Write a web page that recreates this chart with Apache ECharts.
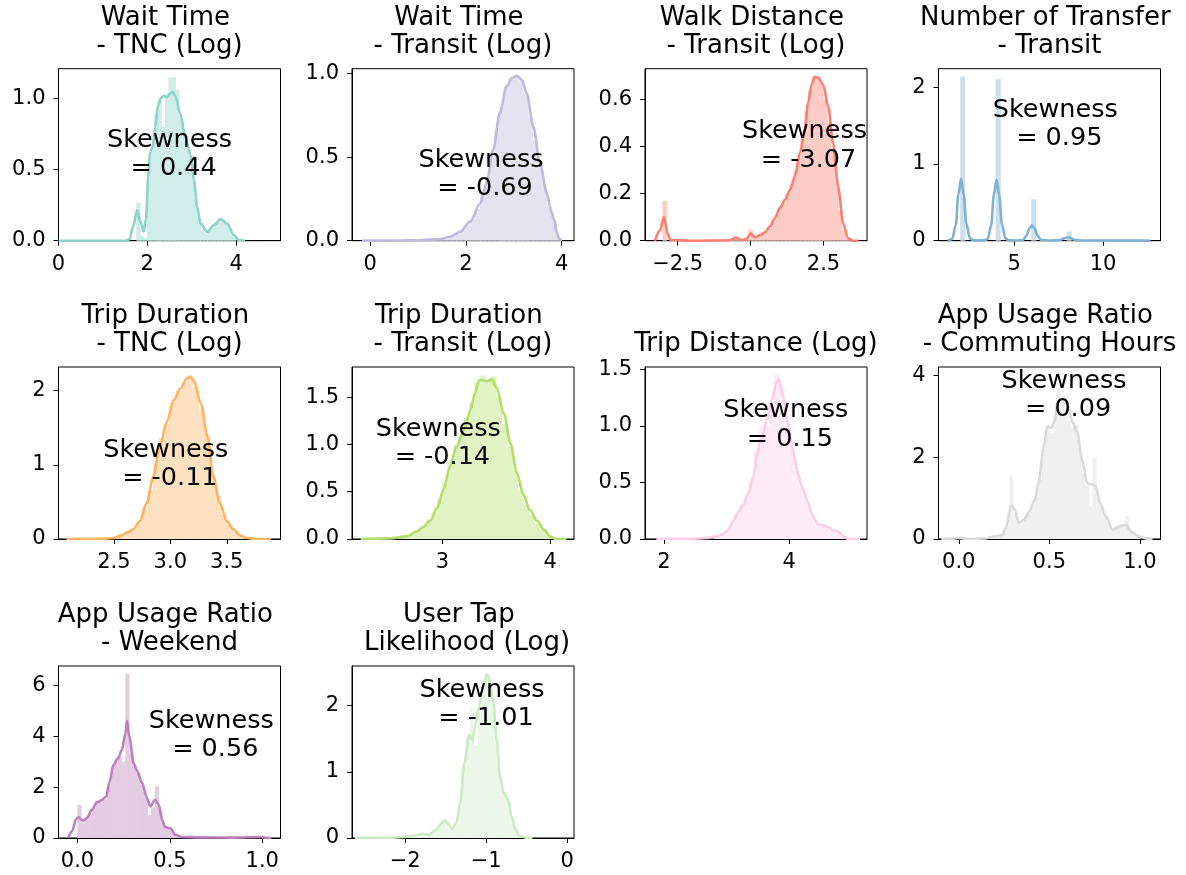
<!DOCTYPE html>
<html><head><meta charset="utf-8">
<script src="https://cdn.jsdelivr.net/npm/echarts@6/dist/echarts.min.js"></script>
<style>html,body{margin:0;padding:0;background:#fff}#c{width:1186px;height:875px}</style>
</head><body><div id="c"></div>
<script>
// ---------------- DATA ----------------
const titles = ['Wait Time \n- TNC (Log)', 'Wait Time \n- Transit (Log)', 'Walk Distance \n- Transit (Log)',
  'Number of Transfer \n- Transit', 'Trip Duration \n- TNC (Log)', 'Trip Duration \n- Transit (Log)',
  'Trip Distance (Log)', 'App Usage Ratio \n- Commuting Hours', 'App Usage Ratio \n- Weekend',
  'User Tap \n Likelihood (Log)'];
const skewValues = [0.44, -0.69, -3.07, 0.95, -0.11, -0.14, 0.15, 0.09, 0.56, -1.01];

// Panel 1: Wait Time - TNC
const p1XLim = [0, 5], p1YLim = [0, 1.21];
const p1XTicks = [0, 2, 4], p1XTickLabels = ['0', '2', '4'];
const p1YTicks = [0, 0.5, 1.0], p1YTickLabels = ['0.0', '0.5', '1.0'];
const p1KdeX = [0, 1.0, 1.5, 1.6, 1.68, 1.77, 1.85, 1.92, 1.97, 2.02, 2.06, 2.12, 2.18, 2.24, 2.3, 2.37, 2.44, 2.52, 2.57, 2.63, 2.74, 2.86, 2.97, 3.05, 3.12, 3.2, 3.35, 3.5, 3.65, 3.8, 3.95, 4.06, 4.2];
const p1KdeY = [0, 0, 0, 0.01, 0.1, 0.215, 0.13, 0.065, 0.15, 0.45, 0.62, 0.66, 0.8, 0.95, 1.0, 1.02, 1.01, 1.035, 1.047, 1.02, 0.895, 0.73, 0.61, 0.43, 0.24, 0.12, 0.063, 0.11, 0.152, 0.12, 0.04, 0.005, 0];
const p1HistStart = 1.76, p1HistWidth = 0.08;
const p1HistHeights = [0.27, 0.03, 0.02, 0.55, 0.64, 0.88, 0.98, 0.8, 1.02, 1.15, 1.15, 1.06, 0.86, 0.75, 0.64, 0.5, 0.3, 0.16, 0.08, 0.06, 0.07, 0.1, 0.13, 0.16, 0.15, 0.12, 0.07, 0.03];

// Panel 2: Wait Time - Transit
const p2XLim = [-0.38, 4.26], p2YLim = [0, 1.03];
const p2XTicks = [0, 2, 4], p2XTickLabels = ['0', '2', '4'];
const p2YTicks = [0, 0.5, 1.0], p2YTickLabels = ['0.0', '0.5', '1.0'];
const p2KdeX = [-0.17, 0.5, 1.0, 1.46, 1.67, 1.88, 2.09, 2.3, 2.43, 2.57, 2.71, 2.85, 2.96, 3.06, 3.17, 3.27, 3.41, 3.55, 3.69, 3.79, 3.85, 3.9, 3.95, 4.0];
const p2KdeY = [0, 0.001, 0.003, 0.01, 0.024, 0.054, 0.114, 0.224, 0.344, 0.544, 0.764, 0.924, 0.974, 0.988, 0.964, 0.884, 0.684, 0.464, 0.284, 0.17, 0.12, 0.05, 0.01, 0];
const p2HistStart = -0.2, p2HistWidth = 0.1;
const p2HistHeights = [0, 0, 0, 0, 0, 0.001, 0.001, 0.001, 0.002, 0.002, 0.002, 0.003,
  0.003, 0.004, 0.005, 0.007, 0.01, 0.014, 0.02, 0.03, 0.045, 0.06, 0.09, 0.13, 0.19, 0.27, 0.38, 0.5, 0.66, 0.8, 0.92, 0.97, 0.99, 0.96, 0.88, 0.74, 0.6, 0.45, 0.32, 0.2, 0.12, 0.02];

// Panel 3: Walk Distance - Transit
const p3XLim = [-3.62, 3.99], p3YLim = [0, 0.732];
const p3XTicks = [-2.5, 0, 2.5], p3XTickLabels = ['\u22122.5', '0.0', '2.5'];
const p3YTicks = [0, 0.2, 0.4, 0.6], p3YTickLabels = ['0.0', '0.2', '0.4', '0.6'];
const p3KdeX = [-3.28, -3.1, -2.99, -2.97, -2.93, -2.85, -2.74, -2.0, -0.71, -0.51, -0.31, -0.14, 0.01, 0.15, 0.32, 0.49, 0.66, 0.83, 1.0, 1.18, 1.35, 1.52, 1.69, 1.86, 1.97, 2.09, 2.2, 2.32, 2.49, 2.66, 2.83, 3.0, 3.17, 3.34, 3.52, 3.7];
const p3KdeY = [0, 0.045, 0.095, 0.1, 0.08, 0.03, 0.003, 0, 0.002, 0.013, 0.003, 0.008, 0.031, 0.014, 0.024, 0.036, 0.06, 0.095, 0.138, 0.174, 0.216, 0.273, 0.373, 0.472, 0.586, 0.664, 0.697, 0.693, 0.664, 0.572, 0.415, 0.23, 0.074, 0.01, 0, 0];
const p3HistStart = -3.01, p3HistWidth = 0.128;
const p3HistHeights = [0.17, 0, 0, 0, 0, 0, 0, 0, 0, 0, 0, 0, 0, 0, 0, 0, 0, 0,
  0.005, 0.015, 0.005, 0.005, 0.01, 0.048, 0.015, 0.02, 0.028, 0.035, 0.05, 0.075, 0.11, 0.145, 0.16, 0.2, 0.24, 0.3, 0.36, 0.45, 0.55, 0.64, 0.7, 0.7, 0.67, 0.6, 0.5, 0.38, 0.25, 0.13, 0.04, 0.01];

// Panel 4: Number of Transfer - Transit
const p4XLim = [0.73, 13.24], p4YLim = [0, 2.24];
const p4XTicks = [5, 10], p4XTickLabels = ['5', '10'];
const p4YTicks = [0, 1, 2], p4YTickLabels = ['0', '1', '2'];
const p4KdeX = [1.25, 1.5, 1.7, 1.85, 2.0, 2.15, 2.3, 2.5, 2.7, 3.0, 3.3, 3.5, 3.7, 3.85, 4.0, 4.15, 4.3, 4.5, 4.7, 5.0, 5.5, 5.7, 5.85, 6.0, 6.15, 6.3, 6.5, 7.0, 7.6, 7.85, 8.0, 8.15, 8.4, 9.0, 10.0, 11.0, 12.0, 12.68];
const p4KdeY = [0, 0.02, 0.2, 0.6, 0.81, 0.6, 0.22, 0.03, 0.005, 0.003, 0.005, 0.02, 0.2, 0.6, 0.79, 0.6, 0.22, 0.03, 0.005, 0.003, 0.01, 0.07, 0.16, 0.2, 0.16, 0.07, 0.01, 0.003, 0.01, 0.035, 0.045, 0.035, 0.01, 0.003, 0.002, 0.001, 0.001, 0];
const p4HistStart = 1.97, p4HistWidth = 0.25;
const p4HistHeights = [2.14, 0, 0, 0, 0, 0, 0, 0, 2.11, 0, 0, 0, 0, 0, 0, 0, 0.54, 0, 0, 0, 0, 0, 0, 0, 0.12, 0, 0, 0, 0, 0, 0, 0, 0.01, 0, 0, 0, 0, 0, 0, 0, 0.005];

// Panel 5: Trip Duration - TNC
const p5XLim = [2.01, 3.976], p5YLim = [0, 2.32];
const p5XTicks = [2.5, 3.0, 3.5], p5XTickLabels = ['2.5', '3.0', '3.5'];
const p5YTicks = [0, 1, 2], p5YTickLabels = ['0', '1', '2'];
const p5KdeX = [2.08, 2.38, 2.5, 2.56, 2.62, 2.67, 2.73, 2.79, 2.85, 2.91, 2.97, 3.03, 3.09, 3.15, 3.18, 3.21, 3.27, 3.33, 3.38, 3.44, 3.5, 3.56, 3.62, 3.68, 3.74, 3.89];
const p5KdeY = [0, 0.002, 0.013, 0.045, 0.09, 0.13, 0.24, 0.48, 0.84, 1.27, 1.58, 1.87, 2.03, 2.17, 2.19, 2.13, 1.83, 1.38, 0.84, 0.48, 0.24, 0.13, 0.045, 0.013, 0.004, 0];
const p5HistStart = 2.45, p5HistWidth = 0.05;
const p5HistHeights = [0.01, 0.03, 0.06, 0.1, 0.14, 0.22, 0.41, 0.65, 1.03, 1.36, 1.55, 1.84, 2.0, 2.11, 2.18, 2.05, 1.75, 1.42, 0.88, 0.58, 0.33, 0.19, 0.09, 0.035, 0.012, 0.004];

// Panel 6: Trip Duration - Transit
const p6XLim = [2.16, 4.22], p6YLim = [0, 1.82];
const p6XTicks = [3, 4], p6XTickLabels = ['3', '4'];
const p6YTicks = [0, 0.5, 1.0, 1.5], p6YTickLabels = ['0.0', '0.5', '1.0', '1.5'];
const p6KdeX = [2.24, 2.51, 2.67, 2.76, 2.82, 2.89, 2.95, 3.01, 3.07, 3.13, 3.2, 3.26, 3.3, 3.34, 3.38, 3.41, 3.46, 3.5, 3.57, 3.63, 3.69, 3.75, 3.81, 3.88, 3.94, 4.0, 4.05, 4.15];
const p6KdeY = [0, 0.007, 0.028, 0.08, 0.127, 0.2, 0.33, 0.52, 0.77, 0.98, 1.15, 1.37, 1.54, 1.68, 1.68, 1.67, 1.69, 1.6, 1.33, 1.01, 0.7, 0.47, 0.31, 0.19, 0.1, 0.028, 0, 0];
const p6HistStart = 2.6, p6HistWidth = 0.05;
const p6HistHeights = [0.01, 0.03, 0.05, 0.09, 0.13, 0.19, 0.29, 0.43, 0.6, 0.82, 1.0, 1.1, 1.28, 1.45, 1.66, 1.73, 1.67, 1.72, 1.5, 1.22, 0.98, 0.72, 0.52, 0.36, 0.25, 0.16, 0.1, 0.05, 0.01];

// Panel 7: Trip Distance
const p7XLim = [1.70, 5.24], p7YLim = [0, 1.52];
const p7XTicks = [2, 4], p7XTickLabels = ['2', '4'];
const p7YTicks = [0, 0.5, 1.0, 1.5], p7YTickLabels = ['0.0', '0.5', '1.0', '1.5'];
const p7KdeX = [1.88, 2.41, 2.68, 2.84, 2.95, 3.03, 3.11, 3.19, 3.27, 3.35, 3.43, 3.48, 3.53, 3.59, 3.64, 3.72, 3.8, 3.84, 3.9, 3.98, 4.06, 4.14, 4.22, 4.3, 4.38, 4.46, 4.54, 4.62, 4.7, 4.78, 4.86, 4.94, 5.13];
const p7KdeY = [0, 0.001, 0.009, 0.024, 0.044, 0.08, 0.16, 0.24, 0.3, 0.41, 0.55, 0.73, 0.85, 0.94, 1.05, 1.23, 1.38, 1.41, 1.26, 1.02, 0.79, 0.57, 0.44, 0.32, 0.2, 0.13, 0.12, 0.106, 0.076, 0.068, 0.024, 0, 0];
const p7HistStart = 2.8, p7HistWidth = 0.08;
const p7HistHeights = [0.02, 0.04, 0.07, 0.13, 0.22, 0.29, 0.38, 0.52, 0.78, 0.99, 1.0, 1.2, 1.45, 1.35, 1.0, 0.8, 0.6, 0.45, 0.33, 0.2, 0.12, 0.12, 0.1, 0.07, 0.07, 0.02];

// Panel 8: App Usage Ratio - Commuting Hours
const p8XLim = [-0.112, 1.114], p8YLim = [0, 4.21];
const p8XTicks = [0, 0.5, 1.0], p8XTickLabels = ['0.0', '0.5', '1.0'];
const p8YTicks = [0, 2, 4], p8YTickLabels = ['0', '2', '4'];
const p8KdeX = [-0.097, -0.03, 0.0, 0.03, 0.06, 0.15, 0.2, 0.24, 0.26, 0.29, 0.31, 0.33, 0.36, 0.39, 0.42, 0.44, 0.47, 0.49, 0.51, 0.53, 0.545, 0.57, 0.6, 0.63, 0.655, 0.68, 0.71, 0.74, 0.756, 0.78, 0.81, 0.85, 0.88, 0.92, 0.96, 0.995, 1.03, 1.07];
const p8KdeY = [0, 0.01, 0.025, 0.01, 0, 0.016, 0.065, 0.1, 0.27, 0.82, 0.72, 0.39, 0.47, 0.68, 0.96, 1.37, 2.27, 2.76, 2.72, 2.88, 3.37, 3.41, 3.29, 2.84, 2.6, 1.94, 1.37, 1.33, 1.29, 0.88, 0.56, 0.23, 0.29, 0.35, 0.15, 0.065, 0.016, 0];
const p8HistStart = 0, p8HistWidth = 0.02;
const p8HistHeights = [0.08, 0.005, 0.005, 0.005, 0.005, 0.005, 0.005, 0.02, 0.03, 0.05, 0.07, 0.1, 0.15, 0.35, 1.53, 0.6, 0.38, 0.45, 0.55, 0.7, 0.85, 1.1, 1.45, 2.2, 2.75, 2.6, 3.0, 3.7, 3.35, 3.2, 2.9, 2.75, 2.8, 2.1, 1.6, 1.35, 0.8, 1.98, 1.1, 0.8, 0.55, 0.35, 0.22, 0.25, 0.3, 0.35, 0.56, 0.2, 0.08, 0.05];

// Panel 9: App Usage Ratio - Weekend
const p9XLim = [-0.103, 1.099], p9YLim = [0, 6.76];
const p9XTicks = [0, 0.5, 1.0], p9XTickLabels = ['0.0', '0.5', '1.0'];
const p9YTicks = [0, 2, 4, 6], p9YTickLabels = ['0', '2', '4', '6'];
const p9KdeX = [-0.05, -0.03, -0.007, 0.005, 0.03, 0.05, 0.078, 0.105, 0.13, 0.155, 0.174, 0.195, 0.22, 0.24, 0.26, 0.268, 0.28, 0.304, 0.32, 0.35, 0.376, 0.394, 0.42, 0.44, 0.457, 0.475, 0.503, 0.53, 0.566, 0.665, 0.846, 0.99, 1.03, 1.05];
const p9KdeY = [0, 0.26, 0.75, 0.81, 0.68, 0.78, 1.11, 1.4, 1.48, 1.63, 2.22, 2.88, 3.14, 3.46, 4.12, 4.61, 3.99, 2.94, 2.68, 2.16, 1.57, 1.24, 1.5, 1.31, 0.72, 0.43, 0.38, 0.13, 0.04, 0.026, 0.013, 0.04, 0, 0];
const p9HistStart = 0, p9HistWidth = 0.02;
const p9HistHeights = [1.31, 0.6, 0.7, 0.95, 1.2, 1.45, 1.4, 1.5, 2.0, 2.8, 3.0, 3.2, 3.0, 6.47, 3.3, 2.75, 2.5, 2.1, 1.6, 0.9, 1.2, 2.03, 1.1, 0.45, 0.4, 0.35, 0.15, 0.05, 0.03, 0.03,
  0.02, 0.02, 0.02, 0.02, 0.02, 0.015, 0.015, 0.015, 0.015, 0.01, 0.01, 0.01, 0.01, 0.01, 0.01, 0.01, 0.01, 0.01, 0.01, 0.05];

// Panel 10: User Tap Likelihood
const p10XLim = [-2.656, 0.083], p10YLim = [0, 2.60];
const p10XTicks = [-2, -1, 0], p10XTickLabels = ['\u22122', '\u22121', '0'];
const p10YTicks = [0, 1, 2], p10YTickLabels = ['0', '1', '2'];
const p10KdeX = [-2.62, -2.19, -2.03, -1.9, -1.78, -1.7, -1.62, -1.55, -1.51, -1.46, -1.42, -1.37, -1.32, -1.27, -1.21, -1.17, -1.13, -1.09, -1.04, -0.99, -0.96, -0.91, -0.87, -0.83, -0.79, -0.73, -0.69, -0.64, -0.59, -0.51, -0.43];
const p10KdeY = [0, 0.005, 0.015, 0.035, 0.065, 0.05, 0.126, 0.226, 0.266, 0.2, 0.136, 0.226, 0.53, 1.13, 1.56, 1.48, 1.73, 1.98, 2.29, 2.48, 2.39, 2.04, 1.48, 0.93, 0.7, 0.58, 0.33, 0.126, 0.035, 0.005, 0];
const p10HistStart = -2.2, p10HistWidth = 0.05;
const p10HistHeights = [0.005, 0.005, 0.01, 0.01, 0.02, 0.03, 0.04, 0.06, 0.07, 0.05, 0.08, 0.14, 0.2, 0.27, 0.22, 0.14, 0.2, 0.45, 1.1, 1.5, 1.96, 1.4, 1.9, 2.3, 2.42, 2.15, 1.5, 0.95, 0.7, 0.55, 0.3, 0.12, 0.04, 0.01];

// ---------------- LAYOUT / STYLE ----------------
const COLORS = ['#8dd3c7', '#bebada', '#fb8072', '#80b1d3', '#fdb462', '#b3de69', '#fccde5', '#d9d9d9', '#bc80bd', '#ccebc5'];
const COL_LEFT = [58.5, 352, 645, 938.5];
const ROW_TOP = [68.7, 367, 666];
const GW = 222, GH = 172;
const ANNOT_POS = [[169.5, 154.2], [481, 174.2], [804.5, 146.1], [1055.2, 124.6], [165.8, 464.3],
  [438.3, 443.6], [785.8, 424.9], [1064, 395.5], [211.2, 735.3], [482, 704.2]];
const FONT = 'DejaVu Sans';

const raw = [
  [p1XLim, p1YLim, p1XTicks, p1XTickLabels, p1YTicks, p1YTickLabels, p1KdeX, p1KdeY, p1HistStart, p1HistWidth, p1HistHeights],
  [p2XLim, p2YLim, p2XTicks, p2XTickLabels, p2YTicks, p2YTickLabels, p2KdeX, p2KdeY, p2HistStart, p2HistWidth, p2HistHeights],
  [p3XLim, p3YLim, p3XTicks, p3XTickLabels, p3YTicks, p3YTickLabels, p3KdeX, p3KdeY, p3HistStart, p3HistWidth, p3HistHeights],
  [p4XLim, p4YLim, p4XTicks, p4XTickLabels, p4YTicks, p4YTickLabels, p4KdeX, p4KdeY, p4HistStart, p4HistWidth, p4HistHeights],
  [p5XLim, p5YLim, p5XTicks, p5XTickLabels, p5YTicks, p5YTickLabels, p5KdeX, p5KdeY, p5HistStart, p5HistWidth, p5HistHeights],
  [p6XLim, p6YLim, p6XTicks, p6XTickLabels, p6YTicks, p6YTickLabels, p6KdeX, p6KdeY, p6HistStart, p6HistWidth, p6HistHeights],
  [p7XLim, p7YLim, p7XTicks, p7XTickLabels, p7YTicks, p7YTickLabels, p7KdeX, p7KdeY, p7HistStart, p7HistWidth, p7HistHeights],
  [p8XLim, p8YLim, p8XTicks, p8XTickLabels, p8YTicks, p8YTickLabels, p8KdeX, p8KdeY, p8HistStart, p8HistWidth, p8HistHeights],
  [p9XLim, p9YLim, p9XTicks, p9XTickLabels, p9YTicks, p9YTickLabels, p9KdeX, p9KdeY, p9HistStart, p9HistWidth, p9HistHeights],
  [p10XLim, p10YLim, p10XTicks, p10XTickLabels, p10YTicks, p10YTickLabels, p10KdeX, p10KdeY, p10HistStart, p10HistWidth, p10HistHeights]
];

function lighten(hex, a) {
  const c = [1, 3, 5].map(i => parseInt(hex.slice(i, i + 2), 16));
  return 'rgb(' + c.map(v => Math.round(v * a + 255 * (1 - a))).join(',') + ')';
}
function labelFor(ticks, labels) {
  return function (v) {
    const i = ticks.findIndex(t => Math.abs(t - v) < 1e-9);
    return i >= 0 ? labels[i] : '';
  };
}

const grids = [], xAxes = [], yAxes = [], series = [], graphics = [];
raw.forEach((p, i) => {
  const [xLim, yLim, xT, xL, yT, yL, kx, ky, hs, hw, hh] = p;
  const left = COL_LEFT[i % 4], top = ROW_TOP[Math.floor(i / 4)];
  grids.push({ left: left, top: top, width: GW, height: GH, show: true, borderColor: '#000', borderWidth: 1, backgroundColor: 'transparent', containLabel: false });
  const lab = { fontFamily: FONT, fontSize: 21, color: '#000' };
  xAxes.push({
    type: 'value', gridIndex: i, min: xLim[0], max: xLim[1],
    axisLine: { show: true, onZero: false, lineStyle: { color: '#000', width: 1 } },
    axisTick: { show: true, length: 5, customValues: xT, lineStyle: { color: '#000', width: 1 } },
    axisLabel: Object.assign({ customValues: xT, margin: 13, formatter: labelFor(xT, xL), showMinLabel: true, showMaxLabel: true }, lab),
    splitLine: { show: false }
  });
  yAxes.push({
    type: 'value', gridIndex: i, min: yLim[0], max: yLim[1],
    axisLine: { show: true, onZero: false, lineStyle: { color: '#000', width: 1 } },
    axisTick: { show: true, length: 5, customValues: yT, lineStyle: { color: '#000', width: 1 } },
    axisLabel: Object.assign({ customValues: yT, margin: 13, formatter: labelFor(yT, yL), showMinLabel: true, showMaxLabel: true }, lab),
    splitLine: { show: false }
  });
  const fill = lighten(COLORS[i], 0.4);
  const histData = hh.map((h, k) => [hs + k * hw, hs + (k + 1) * hw, h]);
  series.push({
    type: 'custom', xAxisIndex: i, yAxisIndex: i, data: histData, encode: { x: [0, 1], y: 2 }, z: 1,
    renderItem: function (params, api) {
      const p0 = api.coord([api.value(0), api.value(2)]);
      const p1 = api.coord([api.value(1), 0]);
      return { type: 'rect', shape: { x: p0[0] - 0.3, y: p0[1], width: p1[0] - p0[0] + 0.6, height: p1[1] - p0[1] }, style: { fill: fill } };
    }
  });
  series.push({
    type: 'line', xAxisIndex: i, yAxisIndex: i, data: kx.map((x, k) => [x, ky[k]]), z: 3,
    showSymbol: false, smooth: 0.3, smoothMonotone: 'x',
    lineStyle: { color: COLORS[i], width: 2.6 }, itemStyle: { color: COLORS[i] }
  });
  graphics.push({
    type: 'text', x: left + GW / 2, y: top - 8.3, silent: true,
    style: { text: titles[i], font: '26px "' + FONT + '"', fill: '#000', textAlign: 'center', textVerticalAlign: 'bottom', lineHeight: 28 }
  });
  graphics.push({
    type: 'text', x: ANNOT_POS[i][0], y: ANNOT_POS[i][1], silent: true, z: 100,
    style: { text: 'Skewness\n = ' + skewValues[i].toFixed(2), font: '25.5px "' + FONT + '"', fill: '#000', textAlign: 'center', textVerticalAlign: 'middle', lineHeight: 28.5 }
  });
});

const chart = echarts.init(document.getElementById('c'), null, { renderer: 'canvas' });
chart.setOption({
  animation: false,
  backgroundColor: '#fff',
  grid: grids, xAxis: xAxes, yAxis: yAxes, series: series,
  graphic: { elements: graphics }
});
</script></body></html>
